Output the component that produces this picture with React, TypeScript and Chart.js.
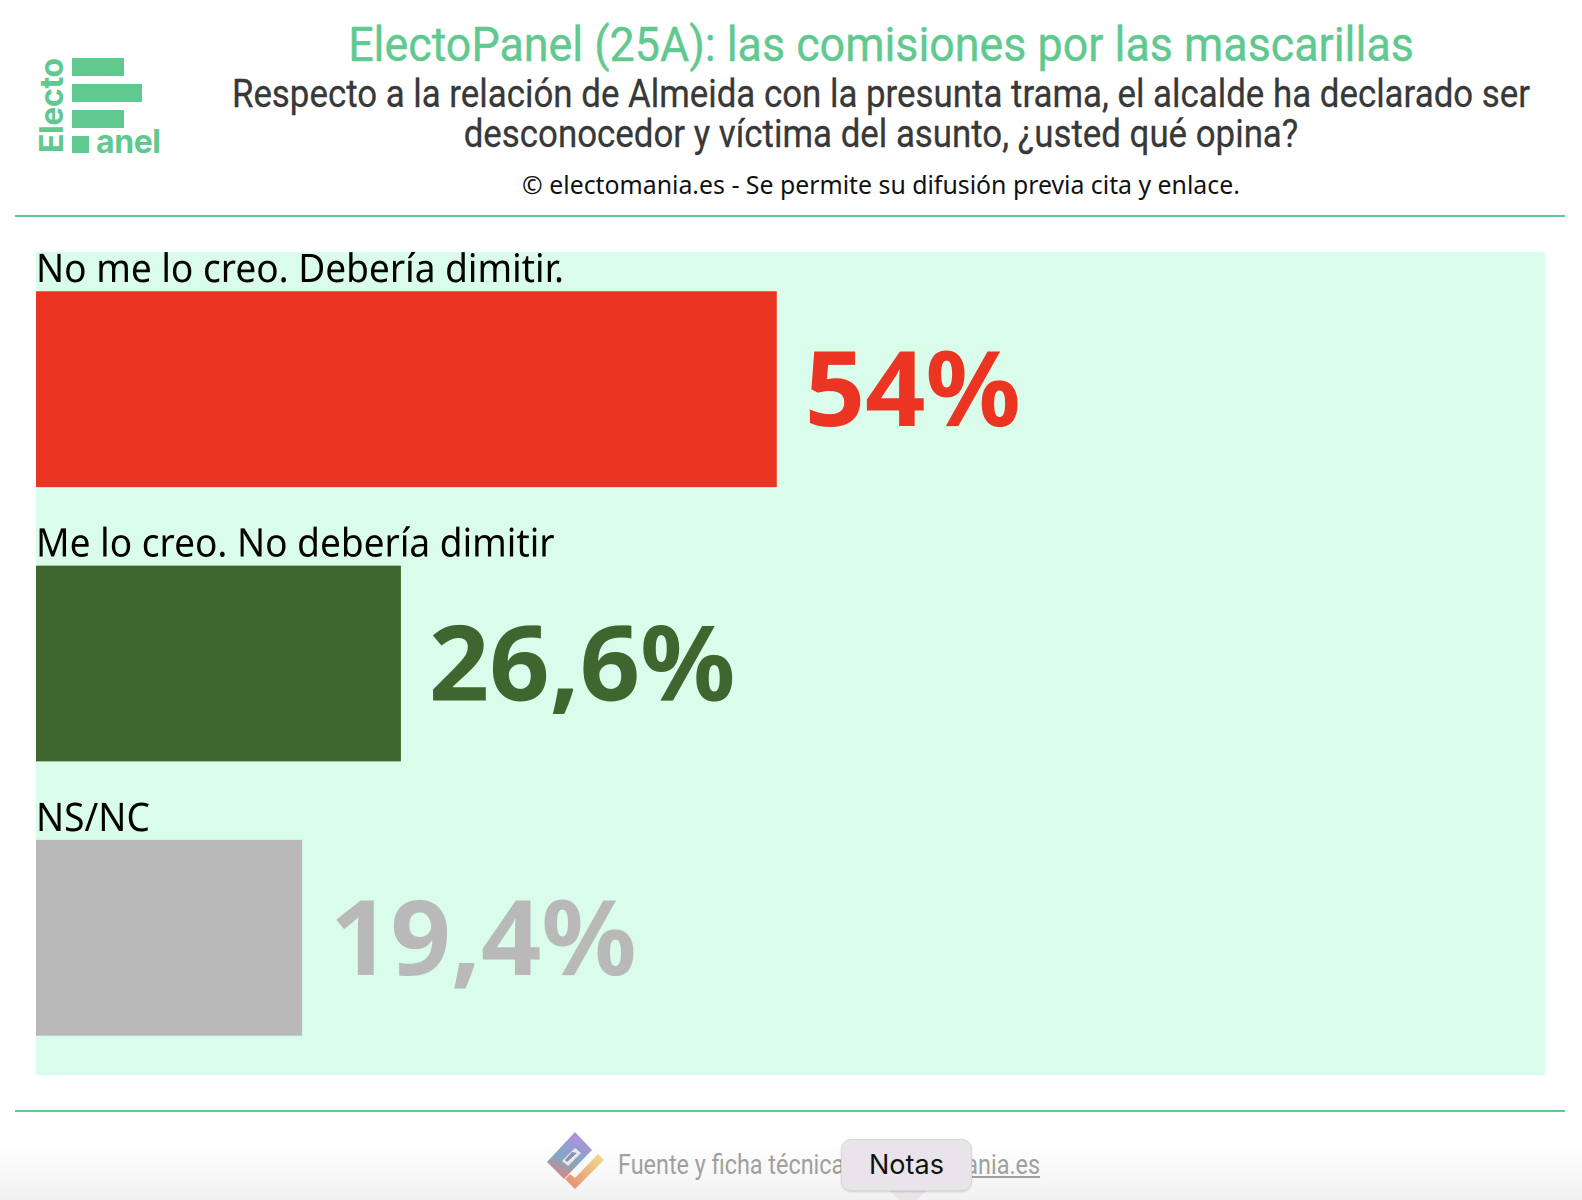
import React, { useEffect, useRef } from "react";
import { Chart, registerables } from "chart.js";

Chart.register(...registerables);

const categories = ["No me lo creo. Debería dimitir.", "Me lo creo. No debería dimitir", "NS/NC"];
const values = [54, 26.6, 19.4];
const valueLabels = ["54%", "26,6%", "19,4%"];
const colors = ["#eb3522", "#3f662e", "#b9b9b9"];

const labelPlugin = {
  id: "barText",
  afterDatasetsDraw(chart: any) {
    const ctx = chart.ctx;
    const meta = chart.getDatasetMeta(0);
    meta.data.forEach((bar: any, i: number) => {
      const top = bar.y - bar.height / 2;
      ctx.save();
      ctx.fillStyle = "#000";
      ctx.textBaseline = "alphabetic";
      ctx.textAlign = "left";
      ctx.font = '400 39px "Noto Sans"';
      ctx.translate(bar.base, top - 9);
      ctx.scale(0.95, 1);
      ctx.fillText(categories[i], 0, 0);
      ctx.restore();

      ctx.save();
      ctx.fillStyle = colors[i];
      ctx.textBaseline = "alphabetic";
      ctx.textAlign = "left";
      ctx.font = '700 104px "Noto Sans"';
      ctx.translate(bar.x + 28, bar.y + 37);
      ctx.scale(1.015, 1);
      ctx.fillText(valueLabels[i], 0, 0);
      ctx.restore();
    });
  },
};

const abs = (s: React.CSSProperties): React.CSSProperties => ({ position: "absolute", ...s });

function Line({ text, y, size, color, sx, font = "Roboto", stroke = 0 }: any) {
  return (
    <div style={abs({ left: 0, width: 1762, top: y, height: size * 1.2, lineHeight: `${size * 1.2}px`, textAlign: "center", fontFamily: font, fontWeight: 400, fontSize: size, color, whiteSpace: "nowrap", transform: `scaleX(${sx})`, transformOrigin: "881px 0", WebkitTextStroke: stroke ? `${stroke}px ${color}` : undefined })}>
      {text}
    </div>
  );
}

export default function App() {
  const ref = useRef<HTMLCanvasElement>(null);
  useEffect(() => {
    const chart = new Chart(ref.current!, {
      type: "bar",
      data: {
        labels: categories,
        datasets: [{ data: values, backgroundColor: colors, barPercentage: 0.714, categoryPercentage: 1 }],
      },
      options: {
        indexAxis: "y",
        animation: false,
        responsive: false,
        devicePixelRatio: 2,
        layout: { padding: 0 },
        plugins: { legend: { display: false }, tooltip: { enabled: false }, title: { display: false } },
        scales: {
          x: { display: false, min: 0, max: 110 },
          y: { display: false },
        },
      },
      plugins: [labelPlugin],
    } as any);
    return () => chart.destroy();
  }, []);

  const green = "#5fc98f";
  return (
    <div style={abs({ left: 0, top: 0, width: 1582, height: 1200, overflow: "hidden", background: "#fff" })}>
      {/* Logo */}
      <svg style={abs({ left: 0, top: 0 })} width={200} height={170}>
        <g fill={green}>
          <rect x={72} y={58} width={52} height={18} />
          <rect x={72} y={84} width={70} height={18} />
          <rect x={72} y={110} width={52} height={18} />
          <rect x={72} y={136} width={17} height={17} />
        </g>
        <text x={96} y={153} fontFamily="Inter" fontWeight={700} fontSize={32} letterSpacing={-0.4} fill={green}>anel</text>
        <text transform="translate(63,153) rotate(-90)" fontFamily="Inter" fontWeight={700} fontSize={32} letterSpacing={-0.4} fill={green}>Electo</text>
      </svg>

      <Line text="ElectoPanel (25A): las comisiones por las mascarillas" y={16} size={48} color={green} sx={0.933} stroke={0.4} />
      <Line text="Respecto a la relación de Almeida con la presunta trama, el alcalde ha declarado ser" y={72} size={38} color="#383838" sx={0.917} stroke={0.3} />
      <Line text="desconocedor y víctima del asunto, ¿usted qué opina?" y={112} size={38} color="#383838" sx={0.917} stroke={0.3} />
      <Line text="© electomania.es - Se permite su difusión previa cita y enlace." y={169} size={26} color="#111" sx={0.955} font='"Noto Sans"' />

      <div style={abs({ left: 15, top: 215, width: 1550, height: 2, background: green })} />
      <div style={abs({ left: 36, top: 252, width: 1509, height: 823, background: "#d9fdea" })} />
      <canvas ref={ref} width={1509} height={823} style={abs({ left: 36, top: 252, width: 1509, height: 823 })} />
      <div style={abs({ left: 15, top: 1110, width: 1550, height: 2, background: green })} />

      {/* Footer */}
      <div style={abs({ left: 0, top: 1125, width: 1582, height: 75, background: "linear-gradient(#ffffff, #ffffff 25%, #f1f1f1)" })} />
      <svg style={abs({ left: 546, top: 1129 })} width={70} height={66}>
        <defs>
          <linearGradient id="lg" x1="0.6" y1="0" x2="0.2" y2="1">
            <stop offset="0" stopColor="#b28fe0" />
            <stop offset="0.55" stopColor="#7fa8c4" />
            <stop offset="1" stopColor="#e0857a" />
          </linearGradient>
          <linearGradient id="lg2" x1="1" y1="0" x2="0" y2="1">
            <stop offset="0" stopColor="#efe08a" />
            <stop offset="1" stopColor="#e28a70" />
          </linearGradient>
        </defs>
        <path d="M29 3 L46 21 L18 50 L1 33 Z" fill="url(#lg)" />
        <path d="M29 19 L35 24 L22 37 L16 32 Z" fill="#e8e8ee" />
        <path d="M26 23 L31 24 L21 33 L19 31 Z" fill="#8f8fb0" />
        <path d="M52 25 L58 31 L29 60 L19 50 L24 45 L29 49 Z" fill="url(#lg2)" />
      </svg>
      <div style={abs({ left: 618, top: 1148, fontFamily: "Roboto", fontSize: 28, lineHeight: "34px", color: "#a0a0a0", whiteSpace: "nowrap", transform: "scaleX(0.836)", transformOrigin: "0 0" })}>
        Fuente y ficha técnica en <span style={{ textDecoration: "underline" }}>electomania.es</span>
      </div>
      <svg style={abs({ left: 886, top: 1188 })} width={44} height={12}>
        <path d="M0 0 L44 0 L30 12 L14 12 Z" fill="#e8e4ea" />
      </svg>
      <div style={abs({ left: 841, top: 1139, width: 131, height: 52, boxSizing: "border-box", background: "#e8e4ea", border: "1px solid #d8d8d8", borderRadius: 10, boxShadow: "0 1px 2px rgba(0,0,0,0.15)", textAlign: "center", lineHeight: "50px", fontFamily: "Inter", fontSize: 27, color: "#111" })}>
        Notas
      </div>
    </div>
  );
}
